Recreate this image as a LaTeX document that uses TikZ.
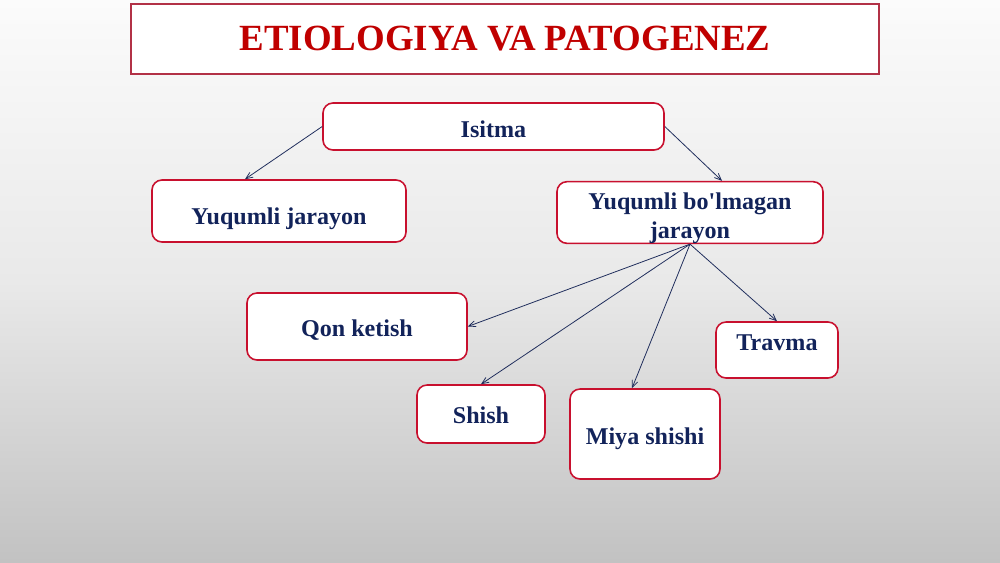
\documentclass[tikz,border=0pt]{standalone}
\usepackage{fontspec}
\setmainfont{Liberation Serif}
\usepackage{xcolor}
\usetikzlibrary{arrows,positioning,calc}
\definecolor{titlered}{HTML}{C00000}
\definecolor{boxred}{HTML}{C8102E}
\definecolor{navytext}{HTML}{12235A}
\definecolor{arrownavy}{HTML}{1F2D5C}
\definecolor{bgtop}{HTML}{FBFBFB}
\definecolor{bgmid}{HTML}{E9E9E9}
\definecolor{bgbot}{HTML}{C2C2C2}
\tikzset{
  titlebox/.style = {draw=boxred!70!gray, line width=0.6pt, fill=white,
                     text=titlered, font=\fontsize{21}{24}\selectfont\bfseries},
  causebox/.style = {draw=boxred, line width=0.9pt, fill=white, rounded corners=2mm,
                     text=navytext, font=\fontsize{13.7}{16.5}\selectfont\bfseries,
                     align=center, inner sep=0pt},
  causeedge/.style = {arrownavy, line width=0.45pt, ->, >=angle 45},
}

\begin{document}
\begin{tikzpicture}[x=0.2mm,y=-0.2mm]
      \shade[top color=bgtop, bottom color=bgbot, middle color=bgmid] (0,0) rectangle (1000,562);
      \useasboundingbox (0,0) rectangle (1000,562);

      \node[titlebox, minimum width=149.6mm, minimum height=14mm] (title) at (505,39) {ETIOLOGIYA VA PATOGENEZ};

      \node[causebox, minimum width=68.2mm, minimum height=9.4mm, text height=4.8mm, text depth=0.6mm] (isitma) at (493.5,126.5) {Isitma};
      \node[causebox, minimum width=50.8mm, minimum height=12.4mm, text height=6.2mm, text depth=1mm] (yuqumli) at (279,211) {Yuqumli jarayon};
      \node[causebox, minimum width=53.2mm, minimum height=12.2mm, text height=11.3mm] (nojuqumli) at (690,212.5) {Yuqumli bo\textquotesingle lmagan\\jarayon};
      \node[causebox, minimum width=44mm, minimum height=13.4mm, text height=5mm, text depth=1mm] (qon) at (357,326.5) {Qon ketish};
      \node[causebox, minimum width=24.4mm, minimum height=11.2mm, text height=4mm, text depth=4mm] (travma) at (777,350) {Travma};
      \node[causebox, minimum width=25.6mm, minimum height=11.6mm, text height=4.9mm, text depth=1mm] (shish) at (481,414) {Shish};
      \node[causebox, minimum width=30mm, minimum height=18mm, text height=5mm, text depth=1mm] (miya) at (645,434) {Miya shishi};

      \path (isitma.west) edge[causeedge] ($(yuqumli.north)+(-34,0)$);
      \path (isitma.east) edge[causeedge] ($(nojuqumli.north)+(32,0)$);
      \path (nojuqumli.south) edge[causeedge] (qon.east);
      \path (nojuqumli.south) edge[causeedge] (shish.north);
      \path (nojuqumli.south) edge[causeedge] ($(miya.north)+(-13,0)$);
      \path (nojuqumli.south) edge[causeedge] (travma.north);
\end{tikzpicture}
\end{document}
